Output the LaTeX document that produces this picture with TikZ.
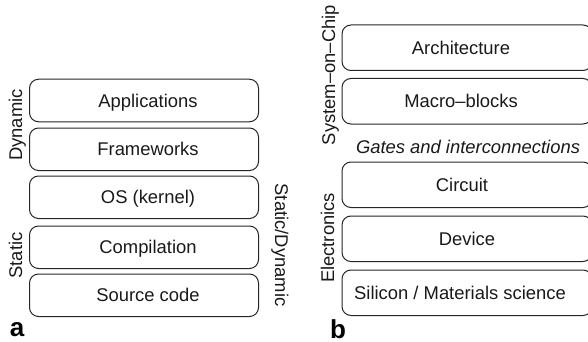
\documentclass[tikz,border=0pt]{standalone}
\usepackage{fontspec}
\setmainfont{Liberation Sans}
\usetikzlibrary{calc}
\begin{document}
\begin{tikzpicture}[x=1pt,y=-1pt,
  layer/.style={draw=black!85, line width=1pt, rounded corners=9pt, inner sep=0pt},
  abox/.style={layer, minimum width=229pt, minimum height=42.5pt},
  bbox/.style={layer, minimum width=250pt, minimum height=45.5pt},
  lbl/.style={font=\fontsize{18.4}{22}\selectfont, inner sep=0pt, anchor=base, text=black!90},
  panel/.style={font=\fontsize{26}{30}\selectfont\bfseries, inner sep=0pt, anchor=base}]
\useasboundingbox (0,0) rectangle (588,342);
% panel a
\node[abox] (app) at (144,100.5) {};
\node[abox] (fw)  at (144,149.25) {};
\node[abox] (os)  at (144,197.25) {};
\node[abox] (cmp) at (144,247.25) {};
\node[abox] (src) at (144,295.25) {};
\node[lbl] (appt) at ($(app.center)+(4,6.6)$) {Applications};
\node[lbl] (fwt)  at ($(fw.center)+(4,6.6)$) {Frameworks};
\node[lbl] (ost)  at ($(os.center)+(4,6.6)$) {OS (kernel)};
\node[lbl] (cmpt) at ($(cmp.center)+(4,6.6)$) {Compilation};
\node[lbl] (srct) at ($(src.center)+(4,6.6)$) {Source code};
\node[lbl, rotate=90] (dyn) at (22,125) {Dynamic};
\node[lbl, rotate=90] (sta) at (22,255.5) {Static};
\node[lbl, rotate=-90] (sd) at (275,245) {Static/Dynamic};
\node[panel] (pa) at (17,336) {a};
% panel b
\node[bbox] (arch) at (467,47.75) {};
\node[bbox] (mac)  at (467,101.25) {};
\node[bbox] (cir)  at (467,184.75) {};
\node[bbox] (dev)  at (467,238.75) {};
\node[bbox] (sil)  at (467,292.75) {};
\node[lbl] (archt) at ($(arch.center)+(-6,6.6)$) {Architecture};
\node[lbl] (mact)  at ($(mac.center)+(-6,6.6)$) {Macro–blocks};
\node[lbl] (cirt)  at ($(cir.center)+(-5,6.6)$) {Circuit};
\node[lbl] (devt)  at ($(dev.center)+(0,6.6)$) {Device};
\node[lbl] (silt)  at ($(sil.center)+(-7,6.6)$) {Silicon / Materials science};
\node[lbl, font=\fontsize{18.4}{22}\selectfont\itshape] (gates) at (468,153) {Gates and interconnections};
\node[lbl, rotate=90] (soc) at (335,75) {System–on–Chip};
\node[lbl, rotate=90] (elec) at (334,238) {Electronics};
\node[panel] (pb) at (338,338) {b};
\end{tikzpicture}
\end{document}
